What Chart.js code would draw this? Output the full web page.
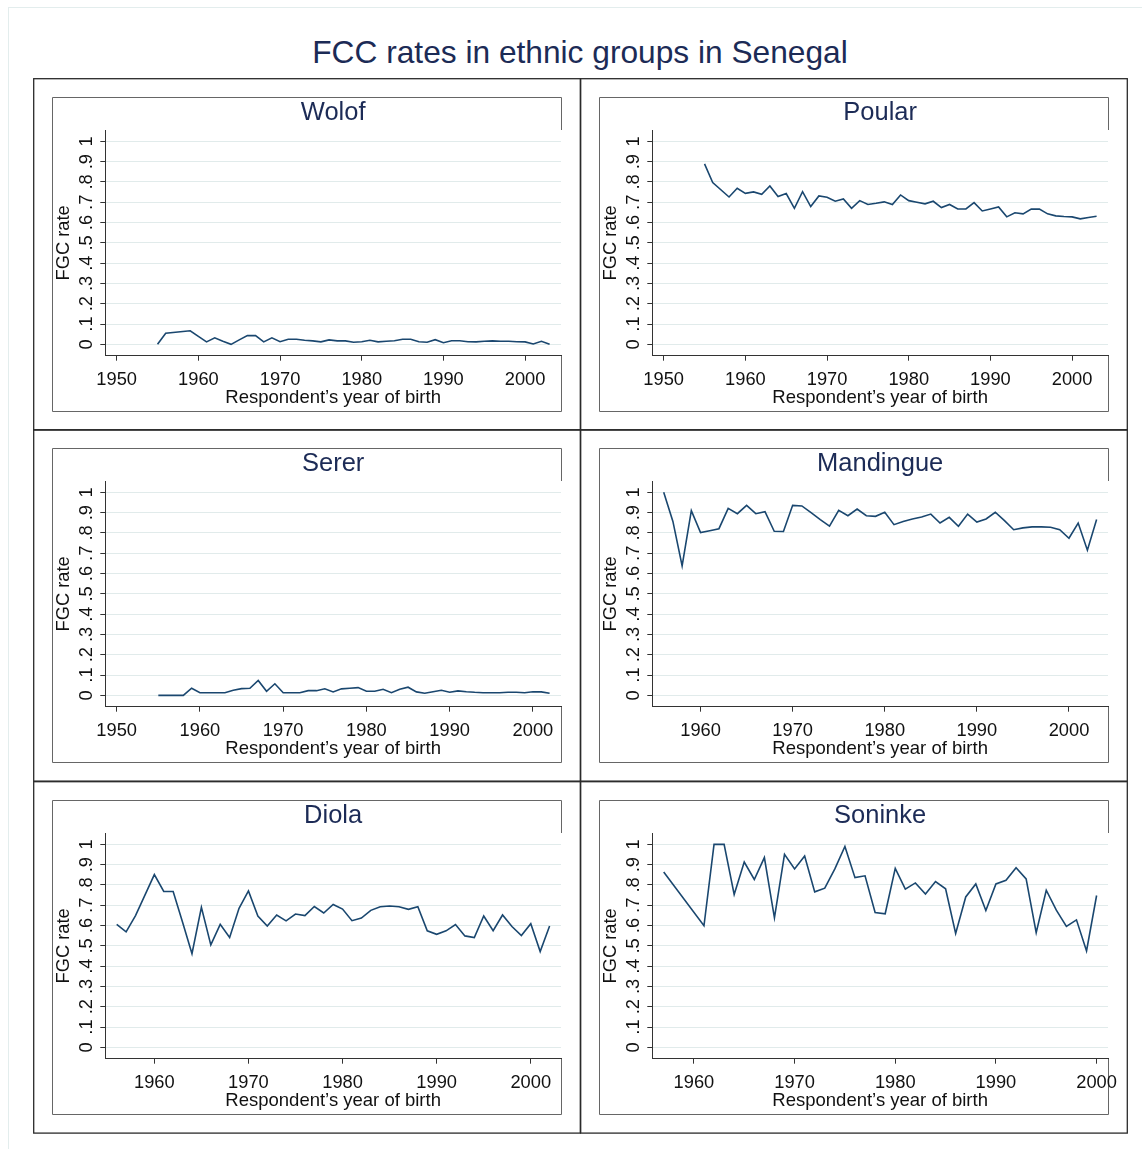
<!DOCTYPE html>
<html>
<head>
<meta charset="utf-8">
<script src="https://cdn.jsdelivr.net/npm/chart.js@4.4.1/dist/chart.umd.min.js"></script>
<style>
  body { margin: 0; background: #fff; }
  #page { position: relative; width: 1142px; height: 1149px; overflow: hidden; background: #fff; }
  #frame { position: absolute; left: 8px; top: 7px; width: 1150px; height: 1160px; border: 1px solid #e3eded; }
  #title { position: absolute; left: 33px; width: 1094px; top: 36px; text-align: center;
           font: 31.7px 'Liberation Sans', Arial, sans-serif; line-height: 32px; color: #1c2b56; }
  canvas { position: absolute; }
</style>
</head>
<body>
<div id="page">
  <div id="frame"></div>
  <div id="title">FCC rates in ethnic groups in Senegal</div>
  <canvas id="wolof" width="548" height="353" style="left:33px;top:78px"></canvas>
  <canvas id="poular" width="548" height="353" style="left:580px;top:78px"></canvas>
  <canvas id="serer" width="548" height="353" style="left:33px;top:429px"></canvas>
  <canvas id="mandingue" width="548" height="353" style="left:580px;top:429px"></canvas>
  <canvas id="diola" width="548" height="353" style="left:33px;top:781px"></canvas>
  <canvas id="soninke" width="548" height="353" style="left:580px;top:781px"></canvas>
</div>
<script>
const yTicks = [0, 0.1, 0.2, 0.3, 0.4, 0.5, 0.6, 0.7, 0.8, 0.9, 1];
const yTickLabels = ['0', '.1', '.2', '.3', '.4', '.5', '.6', '.7', '.8', '.9', '1'];
const xTicks = [1950, 1960, 1970, 1980, 1990, 2000];

const wolofYears = [1955, 1956, 1959, 1960, 1961, 1962, 1963, 1964, 1965, 1966, 1967, 1968, 1969, 1970,
  1971, 1972, 1973, 1974, 1975, 1976, 1977, 1978, 1979, 1980, 1981, 1982, 1983, 1984, 1985, 1986, 1987,
  1988, 1989, 1990, 1991, 1992, 1993, 1994, 1995, 1996, 1997, 1998, 1999, 2000, 2001, 2002, 2003];
const wolofRates = [0, .055, .067, .039, .012, .032, .015, 0, .022, .043, .043, .012, .032, .013,
  .025, .025, .02, .017, .012, .022, .017, .017, .01, .013, .02, .012, .015, .018, .025, .025, .013,
  .01, .023, .008, .018, .018, .013, .012, .015, .017, .015, .015, .013, .012, .002, .015, 0];

const poularYears = [1955, 1956, 1958, 1959, 1960, 1961, 1962, 1963, 1964, 1965, 1966, 1967, 1968, 1969,
  1970, 1971, 1972, 1973, 1974, 1975, 1976, 1977, 1978, 1979, 1980, 1981, 1982, 1983, 1984, 1985, 1986,
  1987, 1988, 1989, 1990, 1991, 1992, 1993, 1994, 1995, 1996, 1997, 1998, 1999, 2000, 2001, 2002, 2003];
const poularRates = [.889, .797, .726, .769, .744, .751, .739, .78, .728, .743, .67, .752, .679, .731,
  .725, .705, .716, .67, .708, .689, .695, .702, .689, .736, .708, .7, .692, .705, .674, .689, .667,
  .667, .698, .657, .667, .677, .628, .648, .643, .666, .667, .643, .633, .63, .628, .618, .625, .631];

const sererYears = [1955, 1956, 1957, 1958, 1959, 1960, 1961, 1962, 1963, 1964, 1965, 1966, 1967, 1968,
  1969, 1970, 1971, 1972, 1973, 1974, 1975, 1976, 1977, 1978, 1979, 1980, 1981, 1982, 1983, 1984, 1985,
  1986, 1987, 1988, 1989, 1990, 1991, 1992, 1993, 1994, 1995, 1996, 1997, 1998, 1999, 2000, 2001, 2002];
const sererRates = [0, 0, 0, 0, .035, .013, .013, .013, .013, .025, .033, .035, .073, .02,
  .057, .013, .013, .013, .023, .023, .032, .017, .032, .035, .038, .02, .02, .03, .013, .03, .04,
  .017, .01, .018, .025, .015, .022, .018, .015, .013, .013, .013, .015, .015, .013, .018, .017, .01];

const mandingueYears = [1956, 1957, 1958, 1959, 1960, 1961, 1962, 1963, 1964, 1965, 1966, 1967, 1968,
  1969, 1970, 1971, 1972, 1973, 1974, 1975, 1976, 1977, 1978, 1979, 1980, 1981, 1982, 1983, 1984, 1985,
  1986, 1987, 1988, 1989, 1990, 1991, 1992, 1993, 1994, 1995, 1996, 1997, 1998, 1999, 2000, 2001, 2002, 2003];
const mandingueRates = [1.0, .857, .638, .91, .802, .811, .821, .921, .895, .936, .895, .905, .808,
  .807, .936, .933, .9, .866, .834, .911, .885, .918, .885, .882, .902, .841, .857, .869, .879, .893,
  .849, .877, .833, .893, .854, .869, .902, .861, .816, .825, .83, .83, .828, .816, .774, .849, .715, .866];

const diolaYears = [1956, 1957, 1958, 1959, 1960, 1961, 1962, 1963, 1964, 1965, 1966, 1967, 1968,
  1969, 1970, 1971, 1972, 1973, 1974, 1975, 1976, 1977, 1978, 1979, 1980, 1981, 1982, 1983, 1984, 1985,
  1986, 1987, 1988, 1989, 1990, 1991, 1992, 1993, 1994, 1995, 1996, 1997, 1998, 1999, 2000, 2001, 2002];
const diolaRates = [.606, .569, .649, .75, .851, .768, .768, .616, .461, .69, .505, .606, .541,
  .685, .771, .647, .598, .652, .623, .657, .649, .694, .662, .704, .681, .624, .637, .675, .693, .696,
  .693, .68, .693, .574, .557, .574, .605, .549, .541, .647, .575, .652, .595, .551, .609, .472, .598];

const soninkeYears = [1957, 1961, 1962, 1963, 1964, 1965, 1966, 1967, 1968, 1969, 1970, 1971, 1972,
  1973, 1974, 1975, 1976, 1977, 1978, 1979, 1980, 1981, 1982, 1983, 1984, 1985, 1986, 1987, 1988,
  1989, 1990, 1991, 1992, 1993, 1994, 1995, 1996, 1997, 1998, 1999, 2000];
const soninkeRates = [.864, .599, 1.0, 1.0, .753, .913, .827, .935, .638, .951, .879, .943, .766,
  .784, .879, .99, .836, .845, .664, .658, .882, .779, .81, .755, .817, .781, .561, .741, .805,
  .674, .805, .823, .885, .83, .565, .774, .676, .596, .628, .475, .748];

// axis span of each panel (first tick or first year .. last year)
const panels = [
  { id: 'wolof', name: 'Wolof', years: wolofYears, rates: wolofRates, span: [1950, 2003] },
  { id: 'poular', name: 'Poular', years: poularYears, rates: poularRates, span: [1950, 2003] },
  { id: 'serer', name: 'Serer', years: sererYears, rates: sererRates, span: [1950, 2002] },
  { id: 'mandingue', name: 'Mandingue', years: mandingueYears, rates: mandingueRates, span: [1956, 2003] },
  { id: 'diola', name: 'Diola', years: diolaYears, rates: diolaRates, span: [1956, 2002] },
  { id: 'soninke', name: 'Soninke', years: soninkeYears, rates: soninkeRates, span: [1957, 2000] }
];

const FAMILY = "'Liberation Sans', Arial, sans-serif";
const NAVY = '#1c2b56';
const INK = '#111';

// outer and inner frames of each sub-graph (Stata style)
const panelBoxes = {
  id: 'panelBoxes',
  beforeDraw(chart) {
    const c = chart.ctx, a = chart.chartArea;
    c.save();
    c.strokeStyle = '#2a2a2a';
    c.lineWidth = 1.3;
    c.strokeRect(0.7, 0.7, 546.6, 351.4);
    c.strokeStyle = '#666';
    c.lineWidth = 1;
    c.beginPath();
    c.moveTo(528.5, a.top);
    c.lineTo(528.5, 19.5);
    c.lineTo(19.5, 19.5);
    c.lineTo(19.5, 333.5);
    c.lineTo(528.5, 333.5);
    c.lineTo(528.5, a.bottom);
    c.stroke();
    c.restore();
  }
};

panels.forEach(p => {
  const lo = p.span[0], hi = p.span[1];
  const pad = (hi - lo) * 11.4 / 432.9;
  new Chart(document.getElementById(p.id), {
    type: 'line',
    data: {
      datasets: [{
        data: p.years.map((yr, i) => ({ x: yr, y: p.rates[i] })),
        borderColor: '#1a476f',
        borderWidth: 1.6,
        pointRadius: 0,
        tension: 0,
        fill: false
      }]
    },
    options: {
      responsive: false,
      animation: false,
      devicePixelRatio: 1,
      layout: { padding: { left: 19, right: 20, top: 19, bottom: 20 } },
      plugins: {
        legend: { display: false },
        tooltip: { enabled: false },
        title: {
          display: true, text: p.name, fullSize: false, color: NAVY,
          font: { family: FAMILY, size: 25.5, weight: 'normal', lineHeight: 1 },
          padding: { top: 3.3, bottom: 4.2 }
        }
      },
      scales: {
        x: {
          type: 'linear',
          min: lo - pad,
          max: hi + pad,
          afterBuildTicks: s => { s.ticks = xTicks.filter(v => v >= lo && v <= hi).map(v => ({ value: v })); },
          afterFit: s => { s.height = 55.3; },
          grid: { display: true, drawOnChartArea: false, drawTicks: true, tickLength: 5, tickColor: '#333' },
          border: { display: true, color: '#333', width: 1 },
          ticks: {
            callback: v => String(v), color: INK, autoSkip: false, maxRotation: 0,
            font: { family: FAMILY, size: 18.3 }, padding: 8.3
          },
          title: {
            display: true, text: 'Respondent’s year of birth', color: INK,
            font: { family: FAMILY, size: 18.5 }, padding: { top: 0, bottom: 2.2 }
          }
        },
        y: {
          min: -0.056,
          max: 1.056,
          afterBuildTicks: s => { s.ticks = yTicks.map(v => ({ value: v })); },
          afterFit: s => { s.width = 53.3; },
          grid: { color: '#e1ebeb', lineWidth: 1, tickLength: 5, tickColor: '#333' },
          border: { display: true, color: '#333', width: 1 },
          ticks: {
            callback: (v, i) => yTickLabels[i], color: INK, autoSkip: false,
            minRotation: 90, maxRotation: 90, crossAlign: 'center', padding: 6,
            font: { family: FAMILY, size: 18.3 }
          },
          title: {
            display: true, text: 'FGC rate', color: INK,
            font: { family: FAMILY, size: 18.3 }, padding: { top: 1, bottom: 0 }
          }
        }
      }
    },
    plugins: [panelBoxes]
  });
});
</script>
</body>
</html>
